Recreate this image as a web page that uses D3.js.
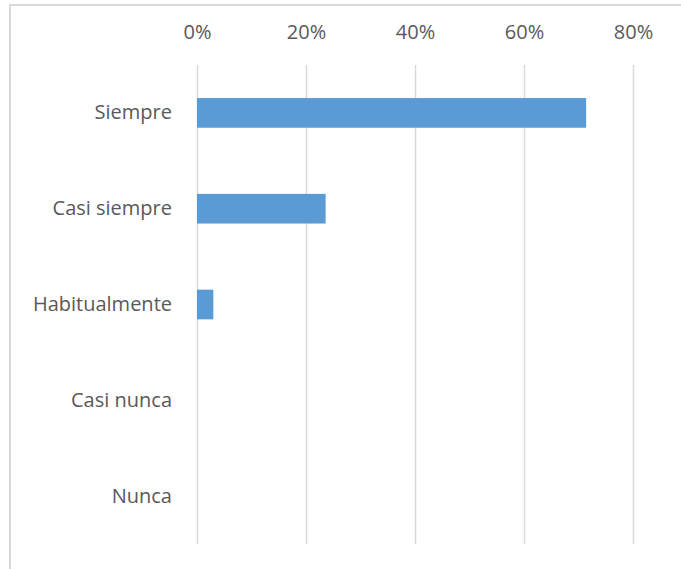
<!DOCTYPE html>
<html>
<head>
<meta charset="utf-8">
<script src="https://cdn.jsdelivr.net/npm/d3@7"></script>
<style>
  html, body { margin: 0; padding: 0; background: #fff; }
  svg { display: block; }
  text { font-family: "Open Sans", "Noto Sans", sans-serif; fill: #595959; }
</style>
</head>
<body>
<svg id="chart" width="681" height="569"></svg>
<script>
// Response categories (top to bottom) and their shares
const categories = ["Siempre", "Casi siempre", "Habitualmente", "Casi nunca", "Nunca"];
const shares = [0.714, 0.236, 0.030, 0, 0];
const tickValues = [0, 0.2, 0.4, 0.6, 0.8];

const data = categories.map((c, i) => ({ category: c, value: shares[i] }));

const svg = d3.select("#chart");
const W = 681, H = 569;
const margin = { top: 65, left: 197, right: 48, bottom: 25 };
const fontSize = 20;

// Chart frame (continues past the right and bottom edges)
svg.append("path")
  .attr("d", `M10,${H + 5} L10,5 L${W + 5},5`)
  .attr("fill", "none")
  .attr("stroke", "#d9d9d9")
  .attr("stroke-width", 2);

const x = d3.scaleLinear()
  .domain([0, 0.8])
  .range([margin.left, W - margin.right]);

const y = d3.scaleBand()
  .domain(categories)
  .range([margin.top, H - margin.bottom])
  .paddingInner(0.69)
  .paddingOuter(0.345);

const yGrid = d3.scaleBand().domain(categories).range([margin.top, H - margin.bottom]);

// Vertical gridlines
svg.append("g")
  .selectAll("line")
  .data(tickValues)
  .join("line")
  .attr("x1", d => Math.round(x(d)) + 0.5)
  .attr("x2", d => Math.round(x(d)) + 0.5)
  .attr("y1", margin.top)
  .attr("y2", H - margin.bottom)
  .attr("stroke", "#d9d9d9")
  .attr("stroke-width", 1.5);

// Top axis labels
const xAxis = d3.axisTop(x)
  .tickValues(tickValues)
  .tickFormat(d3.format(".0%"))
  .tickSize(0)
  .tickPadding(0);

const gx = svg.append("g")
  .attr("transform", "translate(0,39)")
  .call(xAxis);
gx.select(".domain").remove();
gx.selectAll("text")
  .attr("font-size", fontSize)
  .attr("font-family", null)
  .style("fill", "#595959");

// Category labels
const yAxis = d3.axisLeft(yGrid).tickSize(0).tickPadding(0);
const gy = svg.append("g")
  .attr("transform", "translate(172,0)")
  .call(yAxis);
gy.select(".domain").remove();
gy.selectAll("text")
  .attr("font-size", fontSize)
  .attr("font-family", null)
  .style("fill", "#595959");

// Bars
svg.append("g")
  .selectAll("rect")
  .data(data)
  .join("rect")
  .attr("x", x(0))
  .attr("y", d => y(d.category))
  .attr("width", d => x(d.value) - x(0))
  .attr("height", y.bandwidth())
  .attr("fill", "#5b9bd5");
</script>
</body>
</html>
